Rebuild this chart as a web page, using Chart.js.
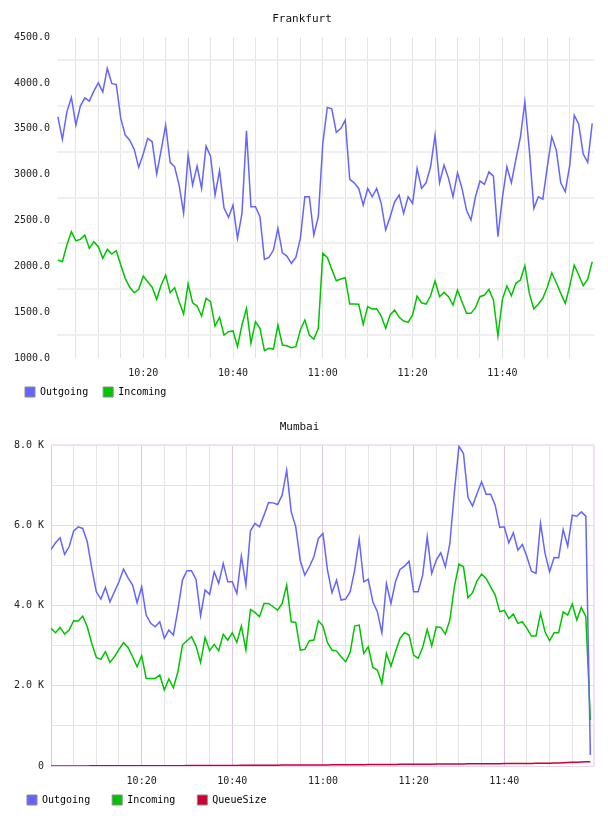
<!DOCTYPE html>
<html>
<head>
<meta charset="utf-8">
<title>Traffic</title>
<script src="https://cdn.jsdelivr.net/npm/chart.js@4.4.1/dist/chart.umd.min.js"></script>
<style>
  html, body { margin: 0; padding: 0; background: #fff; }
  .chart-box { position: relative; width: 608px; height: 408px; }
</style>
</head>
<body>
<div class="chart-box"><canvas id="frankfurt"></canvas></div>
<div class="chart-box"><canvas id="mumbai"></canvas></div>
<script>
// one sample per minute, minutes counted from 10:00
const timeTickMinutes = [20, 40, 60, 80, 100];
const timeLabels = ['10:20', '10:40', '11:00', '11:20', '11:40'];

const frankfurtYLabelValues = [1000, 1500, 2000, 2500, 3000, 3500, 4000, 4500];
const frankfurtYLabels = ['1000.0', '1500.0', '2000.0', '2500.0', '3000.0', '3500.0', '4000.0', '4500.0'];
const mumbaiYLabelValues = [0, 2000, 4000, 6000, 8000];
const mumbaiYLabels = ['0', '2.0 K', '4.0 K', '6.0 K', '8.0 K'];

// Frankfurt, starts 10:01
const frankfurtOutgoing = [
  3631, 3385, 3686, 3843, 3541, 3748, 3838, 3802, 3911, 4002, 3904, 4159, 3995, 3984, 3614, 3432, 3377, 3276, 3079, 3225,
  3396, 3359, 3006, 3268, 3541, 3134, 3086, 2886, 2581, 3213, 2886, 3094, 2850, 3312, 3203, 2777, 3042, 2636, 2534, 2668,
  2305, 2578, 3478, 2650, 2650, 2541, 2076, 2098, 2178, 2414, 2148, 2112, 2033, 2098, 2305, 2759, 2759, 2341, 2541, 3341,
  3733, 3719, 3461, 3504, 3595, 2949, 2911, 2850, 2668, 2850, 2759, 2850, 2686, 2396, 2541, 2705, 2777, 2578, 2759, 2686,
  3068, 2850, 2911, 3086, 3432, 2911, 3105, 2960, 2759, 3020, 2850, 2614, 2505, 2759, 2930, 2894, 3031, 2984, 2323, 2750,
  3086, 2911, 3166, 3406, 3795, 3268, 2632, 2759, 2734, 3086, 3413, 3268, 2911, 2814, 3105, 3650, 3551, 3225, 3134, 3559
];
const frankfurtIncoming = [
  2069, 2050, 2232, 2377, 2279, 2294, 2341, 2196, 2268, 2214, 2087, 2185, 2134, 2170, 2014, 1869, 1771, 1712, 1749, 1894,
  1832, 1771, 1640, 1796, 1905, 1712, 1767, 1614, 1480, 1807, 1603, 1567, 1458, 1651, 1614, 1349, 1444, 1251, 1287, 1295,
  1123, 1360, 1542, 1160, 1396, 1324, 1080, 1106, 1098, 1360, 1142, 1134, 1112, 1123, 1305, 1414, 1251, 1204, 1324, 2142,
  2098, 1967, 1843, 1861, 1876, 1589, 1589, 1586, 1367, 1560, 1534, 1538, 1458, 1324, 1469, 1523, 1444, 1404, 1389, 1469,
  1676, 1603, 1589, 1679, 1840, 1669, 1716, 1669, 1578, 1742, 1614, 1487, 1487, 1549, 1669, 1687, 1749, 1633, 1240, 1640,
  1785, 1679, 1815, 1851, 2007, 1705, 1534, 1589, 1651, 1771, 1930, 1821, 1705, 1596, 1785, 2014, 1905, 1789, 1861, 2050
];

// Mumbai, starts 10:00
const mumbaiOutgoing = [
  5400, 5566, 5690, 5276, 5466, 5864, 5964, 5924, 5591, 4927, 4344, 4162, 4454, 4095, 4344, 4593, 4910, 4693, 4511, 4070,
  4469, 3764, 3557, 3472, 3597, 3183, 3390, 3266, 3900, 4636, 4868, 4868, 4653, 3750, 4387, 4279, 4843, 4554, 5052, 4593,
  4593, 4304, 5234, 4511, 5864, 6049, 5964, 6256, 6572, 6562, 6522, 6754, 7377, 6338, 5964, 5117, 4760, 4968, 5217, 5674,
  5798, 4885, 4320, 4635, 4137, 4162, 4345, 4885, 5649, 4594, 4660, 4096, 3850, 3323, 4552, 4054, 4594, 4901, 4984, 5109,
  4345, 4345, 4760, 5715, 4802, 5134, 5317, 4968, 5549, 6837, 7975, 7792, 6696, 6488, 6795, 7086, 6779, 6779, 6505, 5948,
  5965, 5566, 5815, 5383, 5524, 5217, 4860, 4802, 6048, 5300, 4843, 5200, 5192, 5898, 5483, 6255, 6230, 6338, 6230, 275
];
const mumbaiIncoming = [
  3431, 3323, 3456, 3290, 3390, 3622, 3614, 3738, 3473, 3057, 2708, 2659, 2850, 2584, 2725, 2908, 3074, 2958, 2725, 2476,
  2750, 2185, 2185, 2185, 2268, 1894, 2169, 1952, 2351, 3016, 3124, 3223, 2991, 2584, 3207, 2875, 3032, 2875, 3282, 3140,
  3323, 3082, 3489, 2891, 3900, 3830, 3722, 4054, 4054, 3971, 3888, 4054, 4511, 3597, 3580, 2891, 2908, 3124, 3140, 3622,
  3489, 3074, 2891, 2866, 2725, 2600, 2833, 3489, 3514, 2808, 2974, 2459, 2393, 2060, 2808, 2492, 2850, 3182, 3323, 3265,
  2767, 2683, 2958, 3406, 2991, 3473, 3456, 3290, 3639, 4470, 5034, 4968, 4195, 4320, 4619, 4785, 4677, 4469, 4262, 3850,
  3880, 3680, 3788, 3556, 3597, 3431, 3240, 3240, 3805, 3348, 3124, 3323, 3323, 3846, 3763, 4040, 3639, 3955, 3722, 1147
];
const mumbaiQueueSize = [
  2, 2, 2, 2, 3, 3, 3, 3, 3, 4, 4, 4, 4, 4, 5, 5, 5, 5, 6, 6,
  6, 6, 7, 7, 7, 8, 8, 8, 9, 9, 10, 10, 11, 11, 12, 12, 13, 13, 14, 14,
  15, 15, 16, 16, 17, 18, 18, 19, 20, 20, 21, 22, 22, 23, 24, 24, 25, 26, 26, 27,
  28, 28, 29, 30, 30, 31, 32, 33, 33, 34, 35, 36, 37, 37, 38, 39, 40, 41, 41, 42,
  43, 44, 45, 45, 46, 47, 48, 49, 50, 50, 51, 52, 53, 54, 55, 55, 56, 57, 58, 59,
  60, 61, 62, 63, 64, 64, 65, 66, 67, 68, 70, 72, 75, 80, 86, 92, 96, 100, 104, 108
];

const MONO = '"DejaVu Sans Mono", monospace';
const BLUE = '#6464ff';
const GREEN = '#00c400';
const RED = '#cc0033';

const toPoints = (values, firstMinute) => values.map((v, i) => ({ x: firstMinute + i, y: v }));

const timeLabel = (value) => {
    const i = timeTickMinutes.indexOf(value);
    return i >= 0 ? timeLabels[i] : '';
};

// the x axis is kept short so the legend sits close under it;
// stop Chart.js clipping the time labels to that short box
const shortXAxis = (height) => (s) => {
    s.height = height;
    s._computeLabelArea = () => undefined;
};

const legendFor = (padding) => ({
    position: 'bottom',
    align: 'start',
    labels: {
        boxWidth: 10,
        boxHeight: 10,
        padding: padding,
        color: '#111',
        font: { family: MONO, size: 10 },
        generateLabels: (chart) => chart.data.datasets.map((ds, i) => ({
            text: ds.label,
            fillStyle: ds.borderColor,
            strokeStyle: '#8a8a8a',
            lineWidth: 1,
            hidden: false,
            datasetIndex: i,
        })),
    },
});

const titleFor = (text) => ({
    display: true,
    text: text,
    color: '#111',
    font: { family: MONO, size: 11, weight: 'normal' },
    padding: { top: 13, bottom: 11 },
});

const tickFont = { family: MONO, size: 10 };

// grid every 5 minutes
const gridMinutes = [];
for (let m = 5; m < 120; m += 5) gridMinutes.push(m);

new Chart(document.getElementById('frankfurt'), {
    type: 'line',
    data: {
        datasets: [
            { label: 'Outgoing', data: toPoints(frankfurtOutgoing, 1), borderColor: BLUE, backgroundColor: BLUE },
            { label: 'Incoming', data: toPoints(frankfurtIncoming, 1), borderColor: GREEN, backgroundColor: GREEN },
        ],
    },
    options: {
        responsive: true,
        maintainAspectRatio: false,
        animation: false,
        layout: { padding: { left: 10, right: 14, top: 0, bottom: 1 } },
        elements: { point: { radius: 0 }, line: { borderWidth: 1.5, tension: 0 } },
        scales: {
            x: {
                type: 'linear',
                min: 0.8,
                max: 120.4,
                afterBuildTicks: (s) => { s.ticks = gridMinutes.map((v) => ({ value: v })); },
                afterFit: shortXAxis(14),
                border: { display: false },
                grid: { color: '#e4e4e4', lineWidth: 1, drawTicks: false },
                ticks: { autoSkip: false, maxRotation: 0, minRotation: 0, padding: 9, color: '#222', font: tickFont, callback: timeLabel },
            },
            y: {
                min: 1000,
                max: 4500,
                afterBuildTicks: (s) => {
                    const t = [];
                    for (let v = 1000; v <= 4500; v += 250) t.push({ value: v });
                    s.ticks = t;
                },
                afterFit: (s) => { s.width = 47; },
                border: { display: false },
                grid: {
                    drawTicks: false,
                    lineWidth: 2,
                    color: (ctx) => (ctx.tick && ctx.tick.value % 500 === 0 ? 'rgba(0,0,0,0)' : '#efefef'),
                },
                ticks: {
                    autoSkip: false, padding: 7, color: '#222', font: tickFont,
                    callback: (v) => {
                        const i = frankfurtYLabelValues.indexOf(v);
                        return i >= 0 ? frankfurtYLabels[i] : '';
                    },
                },
            },
        },
        plugins: {
            title: titleFor('Frankfurt'),
            legend: legendFor(15),
            tooltip: { enabled: false },
        },
    },
});

const MUMBAI_MAX = 119.8;
const mumbaiGrid = [0].concat(gridMinutes, [MUMBAI_MAX]);

new Chart(document.getElementById('mumbai'), {
    type: 'line',
    data: {
        datasets: [
            { label: 'Outgoing', data: toPoints(mumbaiOutgoing, 0), borderColor: BLUE, backgroundColor: BLUE },
            { label: 'Incoming', data: toPoints(mumbaiIncoming, 0), borderColor: GREEN, backgroundColor: GREEN },
            { label: 'QueueSize', data: toPoints(mumbaiQueueSize, 0), borderColor: RED, backgroundColor: RED },
        ],
    },
    options: {
        responsive: true,
        maintainAspectRatio: false,
        animation: false,
        layout: { padding: { left: 5, right: 14, top: 0, bottom: 1 } },
        elements: { point: { radius: 0 }, line: { borderWidth: 1.5, tension: 0 } },
        scales: {
            x: {
                type: 'linear',
                min: 0,
                max: MUMBAI_MAX,
                afterBuildTicks: (s) => { s.ticks = mumbaiGrid.map((v) => ({ value: v })); },
                afterFit: shortXAxis(7),
                border: { display: false },
                grid: {
                    drawTicks: false,
                    color: (ctx) => {
                        const v = ctx.tick ? ctx.tick.value : -1;
                        if (v === MUMBAI_MAX) return '#f0e2f0';
                        if (v % 20 === 0) return '#dfc6df';
                        return '#e4e4e4';
                    },
                    lineWidth: (ctx) => (ctx.tick && ctx.tick.value === MUMBAI_MAX ? 2 : 1),
                },
                ticks: { autoSkip: false, maxRotation: 0, minRotation: 0, padding: 9, color: '#222', font: tickFont, callback: timeLabel },
            },
            y: {
                min: 0,
                max: 8000,
                afterBuildTicks: (s) => {
                    const t = [];
                    for (let v = 0; v <= 8000; v += 1000) t.push({ value: v });
                    s.ticks = t;
                },
                afterFit: (s) => { s.width = 46; },
                border: { display: false },
                grid: {
                    drawTicks: false,
                    color: (ctx) => {
                        const v = ctx.tick ? ctx.tick.value : -1;
                        if (v === 8000) return '#f0e2f0';
                        if (v % 2000 === 0) return '#ebd3eb';
                        return '#e4e4e4';
                    },
                    lineWidth: (ctx) => (ctx.tick && ctx.tick.value === 8000 ? 2 : 1),
                },
                ticks: {
                    autoSkip: false, padding: 7, color: '#222', font: tickFont,
                    callback: (v) => {
                        const i = mumbaiYLabelValues.indexOf(v);
                        return i >= 0 ? mumbaiYLabels[i] : '';
                    },
                },
            },
        },
        plugins: {
            title: titleFor('Mumbai'),
            legend: legendFor(22),
            tooltip: { enabled: false },
        },
    },
});
</script>
</body>
</html>
